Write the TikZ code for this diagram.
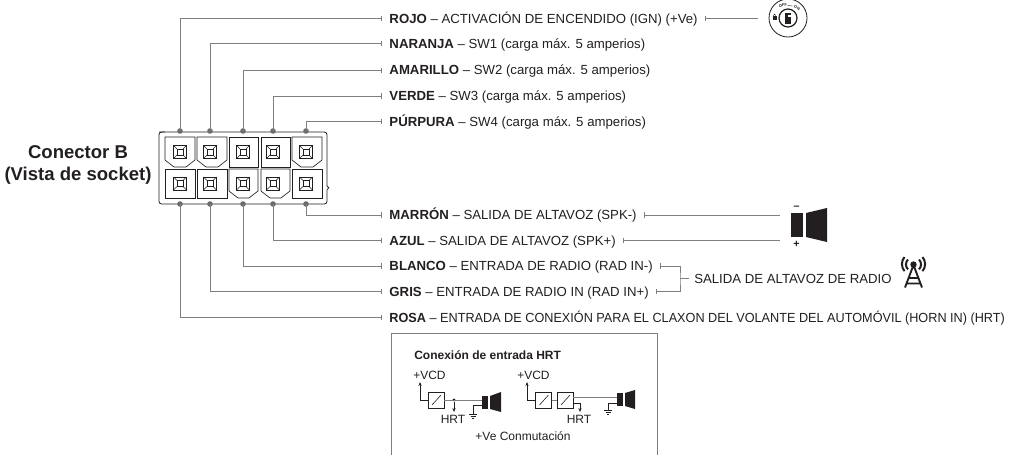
\documentclass[tikz,border=0pt]{standalone}
\usepackage{fontspec}
\usepackage{graphicx}
\setmainfont{Liberation Sans}
\usetikzlibrary{arrows.meta}
\definecolor{wiregray}{HTML}{7F7F7F}
\definecolor{inkgray}{HTML}{231F20}
\tikzset{
  wire/.style={draw=wiregray, line width=0.7pt, -{Bar[width=4pt,length=0.5pt,line width=0.5pt]}},
  wiretwo/.style={draw=wiregray, line width=0.7pt, {Bar[width=4pt,length=0.5pt,line width=0.5pt]}-},
  wireboth/.style={draw=wiregray, line width=0.7pt, {Bar[width=4pt,length=0.5pt,line width=0.5pt]}-{Bar[width=4pt,length=0.5pt,line width=0.5pt]}},
  thinbar/.style={draw=inkgray, line width=0.45pt},
  pinbox/.style={draw=inkgray, line width=0.5pt, fill=white},
  pindot/.style={circle, fill=wiregray!85!black, inner sep=0pt, minimum size=4.2pt},
  wirelabel/.style={anchor=west, inner sep=0pt, inner xsep=5.4pt, text height=7.1pt, text depth=0pt, font=\fontsize{9.9}{11}\selectfont, text=inkgray},
  smalltext/.style={font=\fontsize{9}{10}\selectfont, inner sep=0pt, text=inkgray},
  speakerfill/.style={fill=inkgray, draw=none},
  term/.pic={
    \draw[inkgray, line width=0.45pt] (-6.5,-6.5) rectangle (6.5,6.5);
    \draw[inkgray, line width=0.45pt] (-3,-3) rectangle (3,3);
    \draw[inkgray, line width=0.45pt] (-6.5,-6.5) -- (-3,-3) (6.5,-6.5) -- (3,-3) (-6.5,6.5) -- (-3,3) (6.5,6.5) -- (3,3);
  }
}
\begin{document}
\begin{tikzpicture}[x=0.75pt,y=-0.75pt]
\useasboundingbox (0,0) rectangle (1018,455);

\node[anchor=center, inner sep=0pt, align=center, font=\bfseries\fontsize{13.9}{16.2}\selectfont, text=inkgray] (title) at (78,165) {Conector B\\(Vista de socket)};

% connector body
\draw[inkgray, line width=0.6pt, rounded corners=2pt] (159,132) -- (327,132) -- (327,186);
\draw[inkgray, line width=0.6pt] (327,186) arc (-90:90:1.8);
\draw[inkgray, line width=0.6pt, rounded corners=2pt] (327,189.6) -- (327,204) -- (159,204) -- (159,132) -- (165,132);
\foreach \xa/\xb in {165/195,197/227,292/322}
  \draw[pinbox] (\xa,137) -- (\xb,137) -- (\xb,160) -- ({\xb-9},167) -- ({\xa+9},167) -- (\xa,160) -- cycle;
\foreach \xa/\xb in {229/258,261/290}
  \draw[pinbox] (\xa,137) rectangle (\xb,167);
\foreach \xa/\xb in {165/195,197/227,292/322}
  \draw[pinbox] (\xa,169) rectangle (\xb,198);
\foreach \xa/\xb in {229/258,261/290}
  \draw[pinbox] (\xa,169) -- (\xb,169) -- (\xb,191) -- ({\xb-9},198) -- ({\xa+9},198) -- (\xa,191) -- cycle;
\foreach \xc in {180,210,243,273,306} {
  \pic at (\xc,152) {term};
  \pic at (\xc,183.5) {term};
}

% wires
\foreach \nm/\xc/\yc/\yy/\cname/\xs/\txt in {
  rojo/180/131/18.3/ROJO/1/{ – ACTIVACIÓN DE ENCENDIDO (IGN) (+Ve)},
  naranja/210/131/43.3/NARANJA/1/{ – SW1 (carga máx. 5 amperios)},
  amarillo/243/131/70.2/AMARILLO/1/{ – SW2 (carga máx. 5 amperios)},
  verde/273/131/96/VERDE/1/{ – SW3 (carga máx. 5 amperios)},
  purpura/306/131/121.7/PÚRPURA/1/{ – SW4 (carga máx. 5 amperios)},
  marron/306/204/215/MARRÓN/1/{ – SALIDA DE ALTAVOZ (SPK-)},
  azul/273/204/240.4/AZUL/1/{ – SALIDA DE ALTAVOZ (SPK+)},
  blanco/243/204/266/BLANCO/1/{ – ENTRADA DE RADIO (RAD IN-)},
  gris/210/204/291.7/GRIS/1/{ – ENTRADA DE RADIO IN (RAD IN+)},
  rosa/180/204/317.5/ROSA/0.96/{ – ENTRADA DE CONEXIÓN PARA EL CLAXON DEL VOLANTE DEL AUTOMÓVIL (HORN IN) (HRT)}} {
  \node[pindot] (pin-\nm) at (\xc,\yc) {};
  \node[wirelabel] (lab-\nm) at (382,\yy) {\scalebox{\xs}[1]{\textbf{\cname}\txt}};
  \draw[wire] (pin-\nm.center) |- (lab-\nm.west);
}

% right hand side
\coordinate (keyin) at (758,18.3);
\coordinate (spktop) at (780,215);
\coordinate (spkbot) at (780,240.4);
\coordinate (radmid) at (680,278.6);
\node[smalltext, anchor=west, font=\fontsize{9.9}{11}\selectfont] (radiotext) at (694,278.6) {SALIDA DE ALTAVOZ DE RADIO};
\draw[wiretwo] (lab-rojo.east) -- (keyin);
\draw[wiretwo] (lab-marron.east) -- (spktop);
\draw[wiretwo] (lab-azul.east) -- (spkbot);
\draw[wireboth] (lab-blanco.east) -| (radmid) |- (lab-gris.east);
\draw[draw=wiregray, line width=0.7pt] (radmid) -- (689,278.6);

% key switch
\draw[inkgray, line width=0.6pt, fill=white] (788,18) circle (19);
\draw[inkgray, line width=0.9pt, fill=white] (788,18) circle (9);
\fill[inkgray] (785.2,12.5) rectangle (790.6,24);
\fill[white] (788.4,14.5) rectangle (790.6,17);
\fill[inkgray] (772.5,15.5) rectangle (776.5,19.5);
\draw[inkgray, line width=0.4pt] (773.2,15.5) arc (180:360:1.3);
\node[rotate=5, inner sep=0pt, font=\bfseries\fontsize{3}{3}\selectfont, text=inkgray] (offmark) at (783,5.5) {OFF};
\node[rotate=-25, inner sep=0pt, font=\bfseries\fontsize{3}{3}\selectfont, text=inkgray] (onmark) at (797,8) {ON};
\draw[inkgray, line width=0.3pt] (787.5,5.5) -- (792.5,6);

% speaker
\fill[speakerfill] (791,213) rectangle (803,237);
\fill[speakerfill] (806,213) -- (827,208) -- (827,242) -- (806,237) -- cycle;
\node[inner sep=0pt, font=\bfseries\fontsize{8}{8}\selectfont, text=inkgray] (spkminus) at (796.5,208) {–};
\node[inner sep=0pt, font=\bfseries\fontsize{8}{8}\selectfont, text=inkgray] (spkplus) at (796.5,244) {+};

% antenna
\draw[inkgray, line width=1.4pt] (913.5,265) -- (905,287.5) (913.5,265) -- (922,287.5) (909,278) -- (918,278) (907,283.5) -- (920,283.5);
\fill[inkgray] (913.5,264.5) circle (3.2);
\draw[inkgray, line width=1.5pt] (908,259.5) arc (225:135:7) (919,259.5) arc (-45:45:7);
\draw[inkgray, line width=1.5pt] (904.5,257) arc (220:140:11) (922.5,257) arc (-40:40:11);

% HRT box
\draw[wiregray, line width=0.6pt] (391,455) -- (391,333) -- (657,333) -- (657,455);
\node[anchor=west, inner sep=0pt, font=\bfseries\fontsize{9}{10}\selectfont, text=inkgray] (hrttitle) at (414,355) {Conexión de entrada HRT};
\node[smalltext, anchor=west] (vcd-a) at (413,375) {+VCD};
\node[smalltext] (hrt-a) at (453,419) {HRT};
\node[smalltext, anchor=west] (vcd-b) at (517,375) {+VCD};
\node[smalltext] (hrt-b) at (579,419) {HRT};
\node[smalltext] (conm) at (523,436) {+Ve Conmutación};

\tikzset{
  sw/.style={draw=inkgray, line width=0.45pt, minimum size=12pt, inner sep=0pt, path picture={\draw[inkgray, line width=0.45pt] (path picture bounding box.south west) ++(4,-3) -- ++(9,-10);}},
  feed/.style={draw=inkgray, line width=0.45pt, -{Stealth[length=3pt,width=2.4pt]}},
  hline/.style={draw=wiregray, line width=0.7pt}
}
% first circuit
\node[sw] (sw-a) at (436,400) {};
\coordinate (arr-a) at (420,382);
\coordinate (spk-a) at (482,400);
\node[circle, fill=inkgray, inner sep=0pt, minimum size=2.6pt] (tap-a) at (454,400) {};
\draw[feed] (sw-a.west) -| (arr-a);
\draw[hline] (sw-a.east) -- (spk-a);
\draw[feed] (tap-a) -- (454,412);
\fill[speakerfill] (482,396) rectangle (488,409);
\fill[speakerfill] (490,396) -- (501,392) -- (501,412) -- (490,409) -- cycle;
\draw[thinbar] (482,405) -| (473,414);
\draw[thinbar] (469,414) -- (477,414) (470.5,416) -- (475.5,416) (472,418) -- (474,418);

% second circuit
\node[sw] (sw-b) at (543.5,400) {};
\node[sw] (sw-c) at (565,400) {};
\coordinate (arr-b) at (527,382);
\coordinate (spk-b) at (617,397);
\draw[feed] (sw-b.west) -| (arr-b);
\draw[hline] (sw-b.east) -- (sw-c.west);
\draw[hline] (573,397) -- (spk-b);
\draw[feed] (573,403) -| (580,412);
\fill[speakerfill] (617,393) rectangle (623,406);
\fill[speakerfill] (625,393) -- (635,390) -- (635,409) -- (625,406) -- cycle;
\draw[thinbar] (617,403) -| (608,410);
\draw[thinbar] (604,410) -- (612,410) (605.5,412) -- (610.5,412) (607,414) -- (609,414);
\end{tikzpicture}
\end{document}
